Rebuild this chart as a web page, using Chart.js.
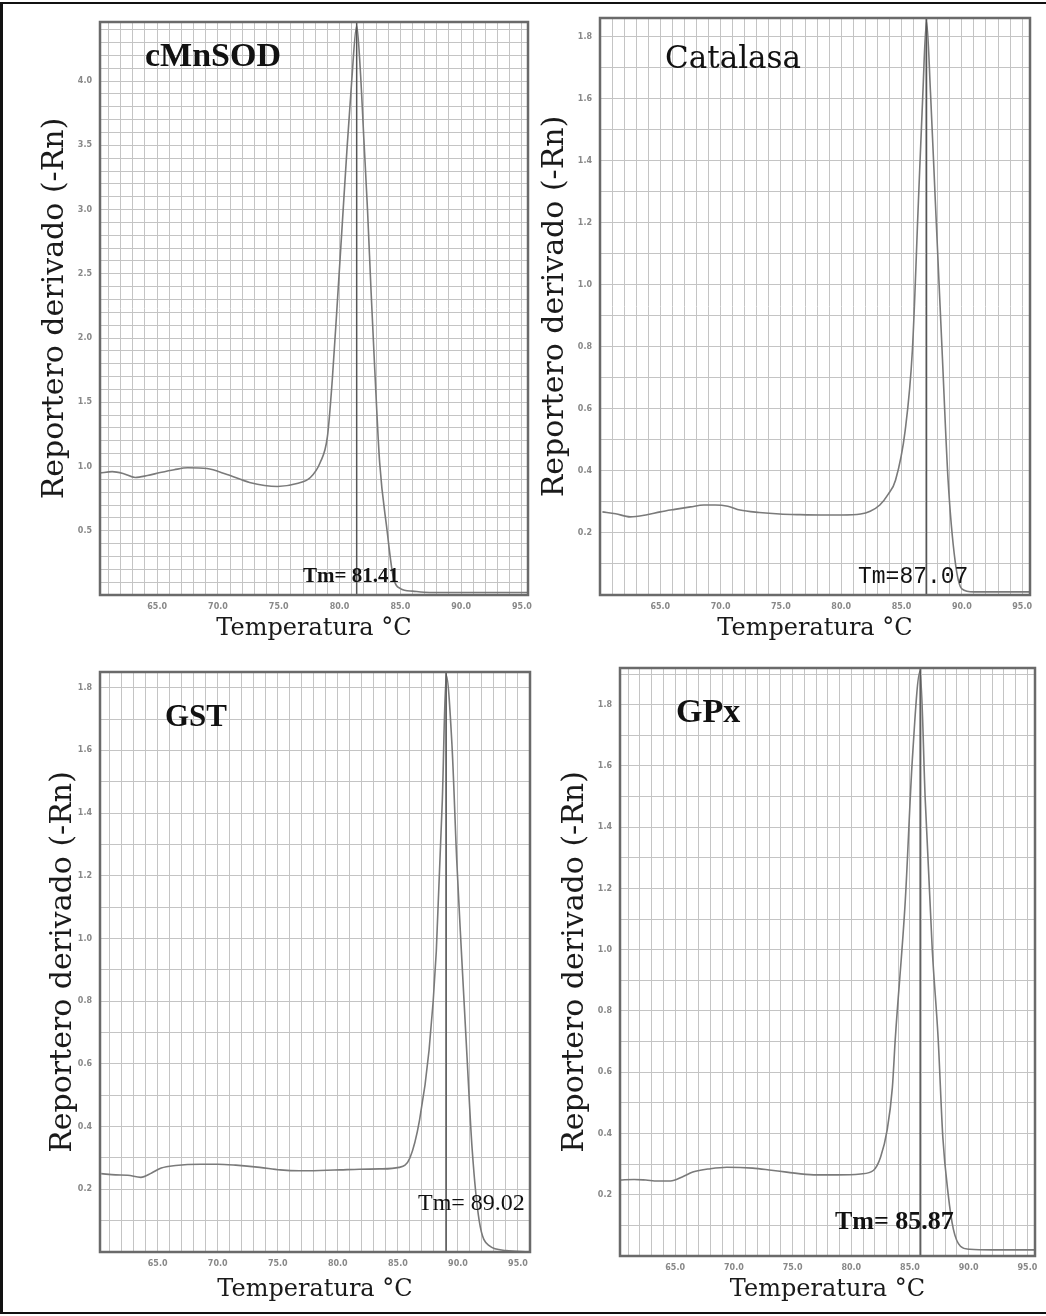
<!DOCTYPE html>
<html>
<head>
<meta charset="utf-8">
<script src="https://cdn.jsdelivr.net/npm/chart.js@4.4.1/dist/chart.umd.min.js"></script>
<style>
  body { margin: 0; background: #fff; }
  #page { position: relative; width: 1046px; height: 1316px; overflow: hidden; background: #fff; }
  #page canvas { position: absolute; }
  #frame { position: absolute; left: 0; top: 2px; width: 1046px; height: 1312px; box-sizing: border-box;
           border-left: 3px solid #111; border-top: 2px solid #111; border-bottom: 2px solid #111; pointer-events: none; }
</style>
</head>
<body>
<div id="page">
  <canvas id="c1" width="540" height="650" style="left:0;top:0"></canvas>
  <canvas id="c2" width="516" height="650" style="left:530px;top:0"></canvas>
  <canvas id="c3" width="540" height="666" style="left:0;top:650px"></canvas>
  <canvas id="c4" width="516" height="666" style="left:530px;top:650px"></canvas>
  <div id="frame"></div>
</div>
<script>
// derivative melt curves
var sodTemp  = [60.3, 61.3, 62.2, 63.2, 64.2, 65.25, 66.4, 67.5, 69.1, 70.75, 72.6, 74.9, 76.5, 77.6, 78.4, 79.0, 79.4, 79.8, 80.2, 80.6, 81.0, 81.41, 81.7, 82.0, 82.3, 82.6, 82.9, 83.3, 83.9, 84.4, 85.0, 86.0, 87.4, 90.0, 92.5, 95.5];
var sodDeriv = [0.95, 0.96, 0.946, 0.915, 0.93, 0.953, 0.975, 0.99, 0.984, 0.938, 0.876, 0.845, 0.868, 0.915, 1.03, 1.23, 1.67, 2.25, 2.85, 3.45, 4.0, 4.43, 4.1, 3.55, 3.0, 2.35, 1.75, 1.03, 0.51, 0.15, 0.05, 0.03, 0.02, 0.02, 0.02, 0.02];
var sodTm = 81.41;

var catTemp  = [60.2, 61.3, 62.5, 63.8, 65.0, 66.2, 67.5, 68.6, 69.55, 70.6, 71.6, 73.2, 74.9, 76.6, 78.3, 80.0, 81.6, 82.4, 83.2, 83.9, 84.5, 85.3, 85.9, 86.4, 86.75, 87.07, 87.4, 87.8, 88.36, 88.86, 89.44, 90.0, 91.0, 93.0, 95.6];
var catDeriv = [0.268, 0.262, 0.252, 0.258, 0.268, 0.276, 0.284, 0.29, 0.29, 0.286, 0.274, 0.266, 0.261, 0.259, 0.258, 0.258, 0.261, 0.27, 0.29, 0.325, 0.37, 0.53, 0.79, 1.27, 1.6, 1.85, 1.62, 1.27, 0.79, 0.37, 0.11, 0.02, 0.01, 0.01, 0.01];
var catTm = 87.07;

var gstTemp  = [60.3, 61.5, 62.5, 63.6, 64.5, 65.3, 66.5, 68.6, 70.0, 71.5, 73.5, 75.2, 76.8, 78.5, 80.2, 81.8, 83.5, 85.1, 86.0, 86.8, 87.6, 88.2, 88.7, 89.02, 89.5, 89.9, 90.3, 90.76, 91.18, 91.77, 92.6, 94.0, 95.9];
var gstDeriv = [0.25, 0.246, 0.245, 0.238, 0.252, 0.268, 0.276, 0.28, 0.28, 0.277, 0.27, 0.262, 0.259, 0.26, 0.262, 0.264, 0.265, 0.27, 0.3, 0.42, 0.645, 0.96, 1.44, 1.84, 1.62, 1.25, 0.95, 0.62, 0.33, 0.1, 0.02, 0.005, 0.0];
var gstTm = 89.02;

var gpxTemp  = [60.3, 61.5, 62.5, 63.5, 64.6, 65.6, 66.5, 68.0, 69.4, 71.6, 73.2, 74.5, 76.8, 78.8, 80.8, 81.9, 82.5, 83.05, 83.5, 83.75, 84.6, 85.2, 85.87, 86.3, 86.9, 87.4, 87.8, 88.25, 88.7, 89.3, 90.1, 92.0, 95.6];
var gpxDeriv = [0.248, 0.25, 0.248, 0.245, 0.245, 0.258, 0.274, 0.285, 0.29, 0.287, 0.28, 0.274, 0.265, 0.265, 0.268, 0.28, 0.323, 0.41, 0.55, 0.71, 1.16, 1.62, 1.91, 1.49, 1.0, 0.71, 0.387, 0.203, 0.087, 0.032, 0.022, 0.02, 0.02];
var gpxTm = 85.87;

// tick labels
var tempTicks = [65, 70, 75, 80, 85, 90, 95];
var sodYTicks = [0.5, 1.0, 1.5, 2.0, 2.5, 3.0, 3.5, 4.0];
var smallYTicks = [0.2, 0.4, 0.6, 0.8, 1.0, 1.2, 1.4, 1.6, 1.8];

var yTitle = 'Reportero derivado (-Rn)';
var xTitle = 'Temperatura °C';

function decor(p) {
  return {
    id: 'decor' + p.id,
    afterDatasetsDraw: function (chart) {
      var a = chart.chartArea, ctx = chart.ctx;
      var x = chart.scales.x.getPixelForValue(p.tm);
      ctx.save();
      // Tm line
      ctx.strokeStyle = '#555';
      ctx.lineWidth = 1.5;
      ctx.beginPath();
      ctx.moveTo(x, a.top);
      ctx.lineTo(x, a.bottom);
      ctx.stroke();
      // plot frame
      ctx.strokeStyle = '#6a6a6a';
      ctx.lineWidth = 2.5;
      ctx.strokeRect(a.left, a.top, a.right - a.left, a.bottom - a.top);
      // gene name
      ctx.fillStyle = '#111';
      ctx.textBaseline = 'middle';
      ctx.font = p.nameFont;
      ctx.fillText(p.name, a.left + p.nameAt[0], a.top + p.nameAt[1]);
      // Tm label
      ctx.font = p.tmFont;
      ctx.fillText(p.tmText, a.left + p.tmAt[0], a.bottom + p.tmAt[1]);
      ctx.restore();
    }
  };
}

function makeChart(p) {
  var pts = p.temp.map(function (t, i) { return { x: t, y: p.deriv[i] }; });
  var tickFont = { family: 'DejaVu Sans', size: 8, weight: 'bold' };
  return new Chart(document.getElementById(p.id), {
    type: 'line',
    data: {
      datasets: [{
        data: pts,
        borderColor: '#7a7a7a',
        borderWidth: 1.6,
        pointRadius: 0,
        fill: false,
        cubicInterpolationMode: 'monotone'
      }]
    },
    options: {
      responsive: false,
      animation: false,
      layout: { padding: p.pad },
      plugins: { legend: { display: false }, tooltip: { enabled: false } },
      scales: {
        x: {
          type: 'linear',
          min: p.xMin,
          max: p.xMax,
          afterFit: function (s) { s.height = p.xh; },
          grid: { color: '#c4c4c4', lineWidth: 1, drawTicks: false },
          border: { display: false },
          ticks: {
            stepSize: 1, includeBounds: false, autoSkip: false, maxRotation: 0, padding: 7,
            color: '#888', font: tickFont,
            callback: function (v) { return tempTicks.indexOf(Math.round(v * 1000) / 1000) >= 0 ? v.toFixed(1) : ''; }
          },
          title: { display: true, text: xTitle, color: '#1a1a1a', font: { family: 'DejaVu Serif', size: 24 }, padding: { top: 0, bottom: 0 } }
        },
        y: {
          min: 0,
          max: p.yMax,
          afterFit: function (s) { s.width = p.yw; },
          grid: { color: '#c4c4c4', lineWidth: 1, drawTicks: false },
          border: { display: false },
          ticks: {
            stepSize: 0.1, includeBounds: false, autoSkip: false, padding: 8,
            color: '#888', font: tickFont,
            callback: function (v) { return p.yTicks.indexOf(Math.round(v * 1000) / 1000) >= 0 ? v.toFixed(1) : ''; }
          },
          title: { display: true, text: yTitle, color: '#1a1a1a', font: { family: 'DejaVu Serif', size: 30 }, padding: { top: 0, bottom: 0 } }
        }
      }
    },
    plugins: [decor(p)]
  });
}

makeChart({
  id: 'c1', name: 'cMnSOD', nameFont: 'bold 34px "Liberation Serif"', nameAt: [45, 35],
  temp: sodTemp, deriv: sodDeriv, tm: sodTm,
  tmText: 'Tm= 81.41', tmFont: 'bold 21px "Liberation Serif"', tmAt: [203, -18],
  xMin: 60.3, xMax: 95.5, yMax: 4.46, yTicks: sodYTicks,
  pad: { left: 37, right: 12, top: 22, bottom: 7 }, yw: 63, xh: 48
});
makeChart({
  id: 'c2', name: 'Catalasa', nameFont: '31px "DejaVu Serif"', nameAt: [65, 42],
  temp: catTemp, deriv: catDeriv, tm: catTm,
  tmText: 'Tm=87.07', tmFont: '23px "Liberation Mono"', tmAt: [258, -18],
  xMin: 60.0, xMax: 95.65, yMax: 1.86, yTicks: smallYTicks,
  pad: { left: 7, right: 16, top: 18, bottom: 7 }, yw: 63, xh: 48
});
makeChart({
  id: 'c3', name: 'GST', nameFont: 'bold 31px "Liberation Serif"', nameAt: [65, 46],
  temp: gstTemp, deriv: gstDeriv, tm: gstTm,
  tmText: 'Tm= 89.02', tmFont: '24px "Liberation Serif"', tmAt: [318, -48],
  xMin: 60.2, xMax: 96.0, yMax: 1.85, yTicks: smallYTicks,
  pad: { left: 45, right: 10, top: 22, bottom: 12 }, yw: 55, xh: 52
});
makeChart({
  id: 'c4', name: 'GPx', nameFont: 'bold 34px "Liberation Serif"', nameAt: [56, 45],
  temp: gpxTemp, deriv: gpxDeriv, tm: gpxTm,
  tmText: 'Tm= 85.87', tmFont: 'bold 26px "Liberation Serif"', tmAt: [215, -34],
  xMin: 60.3, xMax: 95.65, yMax: 1.92, yTicks: smallYTicks,
  pad: { left: 27, right: 11, top: 18, bottom: 12 }, yw: 63, xh: 48
});
</script>
</body>
</html>
